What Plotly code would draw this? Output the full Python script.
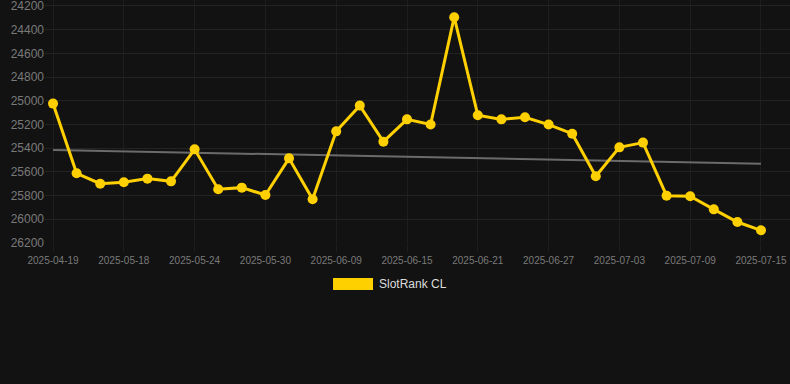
import plotly.graph_objects as go

dates = [
    "2025-04-19", "2025-05-14", "2025-05-16", "2025-05-18", "2025-05-20", "2025-05-22",
    "2025-05-24", "2025-05-26", "2025-05-28", "2025-05-30", "2025-06-03", "2025-06-07",
    "2025-06-09", "2025-06-11", "2025-06-13", "2025-06-15", "2025-06-17", "2025-06-19",
    "2025-06-21", "2025-06-23", "2025-06-25", "2025-06-27", "2025-06-29", "2025-07-01",
    "2025-07-03", "2025-07-05", "2025-07-07", "2025-07-09", "2025-07-11", "2025-07-13",
    "2025-07-15",
]
ranks = [
    25024, 25612, 25700, 25688, 25657, 25680,
    25410, 25747, 25733, 25795, 25486, 25831,
    25258, 25041, 25345, 25157, 25201, 24295,
    25122, 25157, 25139, 25201, 25278, 25637,
    25393, 25353, 25801, 25806, 25916, 26023,
    26093,
]
trend_ends = [25415, 25531]
tick_labels = dates[::3]
y_ticks = [24200, 24400, 24600, 24800, 25000, 25200, 25400, 25600, 25800, 26000, 26200]
series_name = "SlotRank CL"

GOLD = "#FFD000"
BG = "#121212"

fig = go.Figure()
fig.add_trace(go.Scatter(
    x=dates, y=ranks, mode="lines+markers", name=series_name,
    line=dict(color=GOLD, width=3),
    marker=dict(color=GOLD, size=10),
    showlegend=False,
))
fig.add_trace(go.Scatter(
    x=[dates[0], dates[-1]], y=trend_ends, mode="lines",
    line=dict(color="#6b6b6b", width=2), showlegend=False, hoverinfo="skip",
))
# keep the gold series above the trend line
fig.data = (fig.data[1], fig.data[0])

# legend drawn as a rectangle + text
fig.add_shape(type="rect", xref="paper", yref="paper",
              x0=0.3866, x1=0.4403, y0=-0.193, y1=-0.144,
              fillcolor=GOLD, line=dict(width=0))
fig.add_annotation(xref="paper", yref="paper", x=0.4456, y=-0.169,
                   xanchor="left", yanchor="middle", showarrow=False,
                   text=series_name,
                   font=dict(family="Liberation Sans, Arial, sans-serif", size=12, color="#dddddd"))

fig.update_layout(
    width=790, height=384,
    margin=dict(l=45, r=0, t=0, b=141),
    paper_bgcolor=BG, plot_bgcolor=BG,
    font=dict(family="Liberation Sans, Arial, sans-serif", size=11, color="#7a7a7a"),
    showlegend=False,
)
fig.update_xaxes(
    type="category", categoryorder="array", categoryarray=dates,
    range=[-0.34, 31.23],
    tickmode="array", tickvals=tick_labels, ticktext=tick_labels,
    showgrid=True, gridcolor="#1e1e1e", gridwidth=1,
    ticks="outside", ticklen=8, tickcolor="#1e1e1e",
    tickfont=dict(size=10, color="#7a7a7a"),
    showline=False, zeroline=False,
)
fig.update_yaxes(
    range=[26200, 24150],
    tickmode="array", tickvals=y_ticks, ticktext=[str(v) for v in y_ticks],
    showgrid=True, gridcolor="#232323", gridwidth=1,
    tickfont=dict(size=12, color="#7a7a7a"),
    ticklabeloverflow="allow",
    ticks="", showline=False, zeroline=False,
)

fig.write_html(
    "out.html",
    config={"displayModeBar": False},
    post_script="document.body.style.margin='0';document.body.style.background='#121212';",
)
